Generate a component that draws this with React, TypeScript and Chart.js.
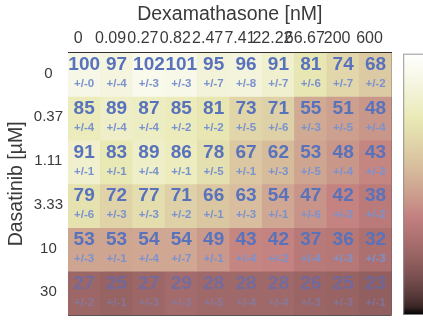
import React, { useEffect, useRef } from 'react';
import { Chart, registerables } from 'chart.js';

Chart.register(...registerables);

// Dexamethasone concentrations [nM] (columns)
const dexLabels = ['0', '0.09', '0.27', '0.82', '2.47', '7.41', '22.22', '66.67', '200', '600'];
// Dasatinib concentrations [µM] (rows)
const dasLabels = ['0', '0.37', '1.11', '3.33', '10', '30'];

// viability (%) per Dasatinib row
const viab0 = [100, 97, 102, 101, 95, 96, 91, 81, 74, 68];
const viab1 = [85, 89, 87, 85, 81, 73, 71, 55, 51, 48];
const viab2 = [91, 83, 89, 86, 78, 67, 62, 53, 48, 43];
const viab3 = [79, 72, 77, 71, 66, 63, 54, 47, 42, 38];
const viab4 = [53, 53, 54, 54, 49, 43, 42, 37, 36, 32];
const viab5 = [27, 25, 27, 29, 28, 28, 28, 26, 25, 23];

// +/- errors per Dasatinib row
const err0 = [0, 4, 3, 3, 7, 8, 7, 6, 7, 2];
const err1 = [4, 4, 4, 2, 2, 5, 6, 3, 5, 4];
const err2 = [1, 1, 4, 1, 5, 1, 3, 5, 4, 3];
const err3 = [6, 3, 3, 2, 1, 3, 1, 6, 3, 2];
const err4 = [3, 1, 4, 7, 1, 4, 2, 4, 3, 3];
const err5 = [2, 1, 3, 3, 5, 4, 4, 3, 3, 1];

const viability = [viab0, viab1, viab2, viab3, viab4, viab5];
const errors = [err0, err1, err2, err3, err4, err5];

const COLOR_MIN = 0;
const COLOR_MAX = 110;

const FONT = '"Liberation Sans", Arial, Helvetica, sans-serif';
const AXIS_TEXT = '#3a3a3a';
const GRID = 'rgba(20,10,10,0.7)';

const W = 423;
const H = 329;
const AREA_LEFT = 68;
const AREA_TOP = 52.7;
const AREA_RIGHT = 391.7;
const AREA_BOTTOM = 326.5;
const ROW_H = (AREA_BOTTOM - AREA_TOP) / dasLabels.length;

// MATLAB "pink" colormap
function pink(t: number): [number, number, number] {
  const v = Math.max(0, Math.min(1, t));
  const hr = Math.min(1, v / 0.375);
  const hg = Math.max(0, Math.min(1, (v - 0.375) / 0.375));
  const hb = Math.max(0, Math.min(1, (v - 0.75) / 0.25));
  const f = (h: number) => Math.round(255 * Math.sqrt((2 * v + h) / 3));
  return [f(hr), f(hg), f(hb)];
}

function cellColor(v: number): string {
  const [r, g, b] = pink((v - COLOR_MIN) / (COLOR_MAX - COLOR_MIN));
  return `rgb(${r},${g},${b})`;
}

const cellTextPlugin = {
  id: 'cellText',
  afterDatasetsDraw(chart: any) {
    const { ctx } = chart;
    const x = chart.scales.x;
    const y = chart.scales.y;
    ctx.save();
    ctx.textAlign = 'center';
    ctx.textBaseline = 'middle';
    viability.forEach((row, r) => {
      const top = y.getPixelForValue(r);
      const bot = y.getPixelForValue(r + 1);
      const h = bot - top;
      row.forEach((v, c) => {
        const cx = x.getPixelForValue(c);
        const faded = v < 30;
        ctx.font = `bold 19px ${FONT}`;
        ctx.fillStyle = faded ? 'rgba(80,110,200,0.55)' : 'rgb(88,114,188)';
        ctx.fillText(String(v), cx, top + h * 0.28);
        ctx.font = `bold 11.5px ${FONT}`;
        ctx.fillStyle = faded ? 'rgba(110,140,215,0.45)' : 'rgb(122,146,206)';
        ctx.fillText('+/-' + errors[r][c], cx, top + h * 0.72);
      });
    });
    ctx.restore();
  },
};

const colorbarPlugin = {
  id: 'colorbar',
  afterDraw(chart: any) {
    const { ctx, chartArea } = chart;
    const x0 = chartArea.right + 11.5;
    const top = chartArea.top + 1;
    const bot = chartArea.bottom;
    const grad = ctx.createLinearGradient(0, bot, 0, top);
    for (let i = 0; i <= 32; i++) {
      const t = i / 32;
      const [r, g, b] = pink(t);
      grad.addColorStop(t, `rgb(${r},${g},${b})`);
    }
    ctx.save();
    ctx.fillStyle = grad;
    ctx.fillRect(x0, top, 40, bot - top);
    ctx.strokeStyle = 'rgba(140,140,140,0.9)';
    ctx.lineWidth = 1;
    ctx.strokeRect(x0 + 0.5, top + 0.5, 40, bot - top - 1);
    ctx.restore();
  },
};

export default function App() {
  const canvasRef = useRef<HTMLCanvasElement | null>(null);

  useEffect(() => {
    if (!canvasRef.current) return;
    const datasets = viability.map((row, r) => ({
      label: dasLabels[r],
      data: row.map(() => [r, r + 1]),
      backgroundColor: row.map((v) => cellColor(v)),
      borderWidth: 0,
      barPercentage: 1,
      categoryPercentage: 1,
      grouped: false,
    }));

    const chart = new Chart(canvasRef.current, {
      type: 'bar',
      data: { labels: dexLabels, datasets: datasets as any },
      plugins: [cellTextPlugin, colorbarPlugin],
      options: {
        responsive: false,
        animation: false,
        devicePixelRatio: 1,
        layout: {
          padding: { left: 0, top: 0, right: W - AREA_RIGHT, bottom: H - AREA_BOTTOM },
        },
        plugins: {
          legend: { display: false },
          tooltip: { enabled: false },
        },
        scales: {
          x: {
            type: 'category',
            position: 'top',
            z: 1,
            offset: true,
            grid: { display: true, offset: true, color: GRID, lineWidth: 1, drawTicks: false },
            border: { display: true, color: GRID, width: 1 },
            ticks: {
              autoSkip: false,
              maxRotation: 0,
              minRotation: 0,
              padding: 5,
              labelOffset: -6,
              color: AXIS_TEXT,
              font: { family: FONT, size: 16 },
            },
            title: {
              display: true,
              text: 'Dexamathasone [nM]',
              color: AXIS_TEXT,
              font: { family: FONT, size: 19.5 },
              padding: { top: 3, bottom: 0 },
            },
            afterFit: (scale: any) => {
              scale.height = AREA_TOP;
            },
          },
          y: {
            type: 'linear',
            min: 0,
            max: dasLabels.length,
            reverse: true,
            z: 1,
            grid: { display: true, color: GRID, lineWidth: 1, drawTicks: false },
            border: { display: true, color: GRID, width: 1 },
            ticks: {
              stepSize: 1,
              padding: 5,
              crossAlign: 'center',
              labelOffset: ROW_H / 2 - 2,
              color: AXIS_TEXT,
              font: { family: FONT, size: 15 },
              callback: (v: any) => (dasLabels[v] !== undefined && Number.isInteger(v) ? dasLabels[v] : ''),
            },
            title: {
              display: true,
              text: 'Dasatinib [µM]',
              color: AXIS_TEXT,
              font: { family: FONT, size: 19.5 },
              padding: { top: 5, bottom: 0 },
            },
            afterFit: (scale: any) => {
              scale.width = AREA_LEFT;
            },
          },
        },
      } as any,
    });
    return () => chart.destroy();
  }, []);

  return (
    <div style={{ position: 'absolute', left: 0, top: 0, width: W, height: H, background: '#fff' }}>
      <canvas ref={canvasRef} width={W} height={H} style={{ display: 'block', width: W, height: H }} />
    </div>
  );
}
